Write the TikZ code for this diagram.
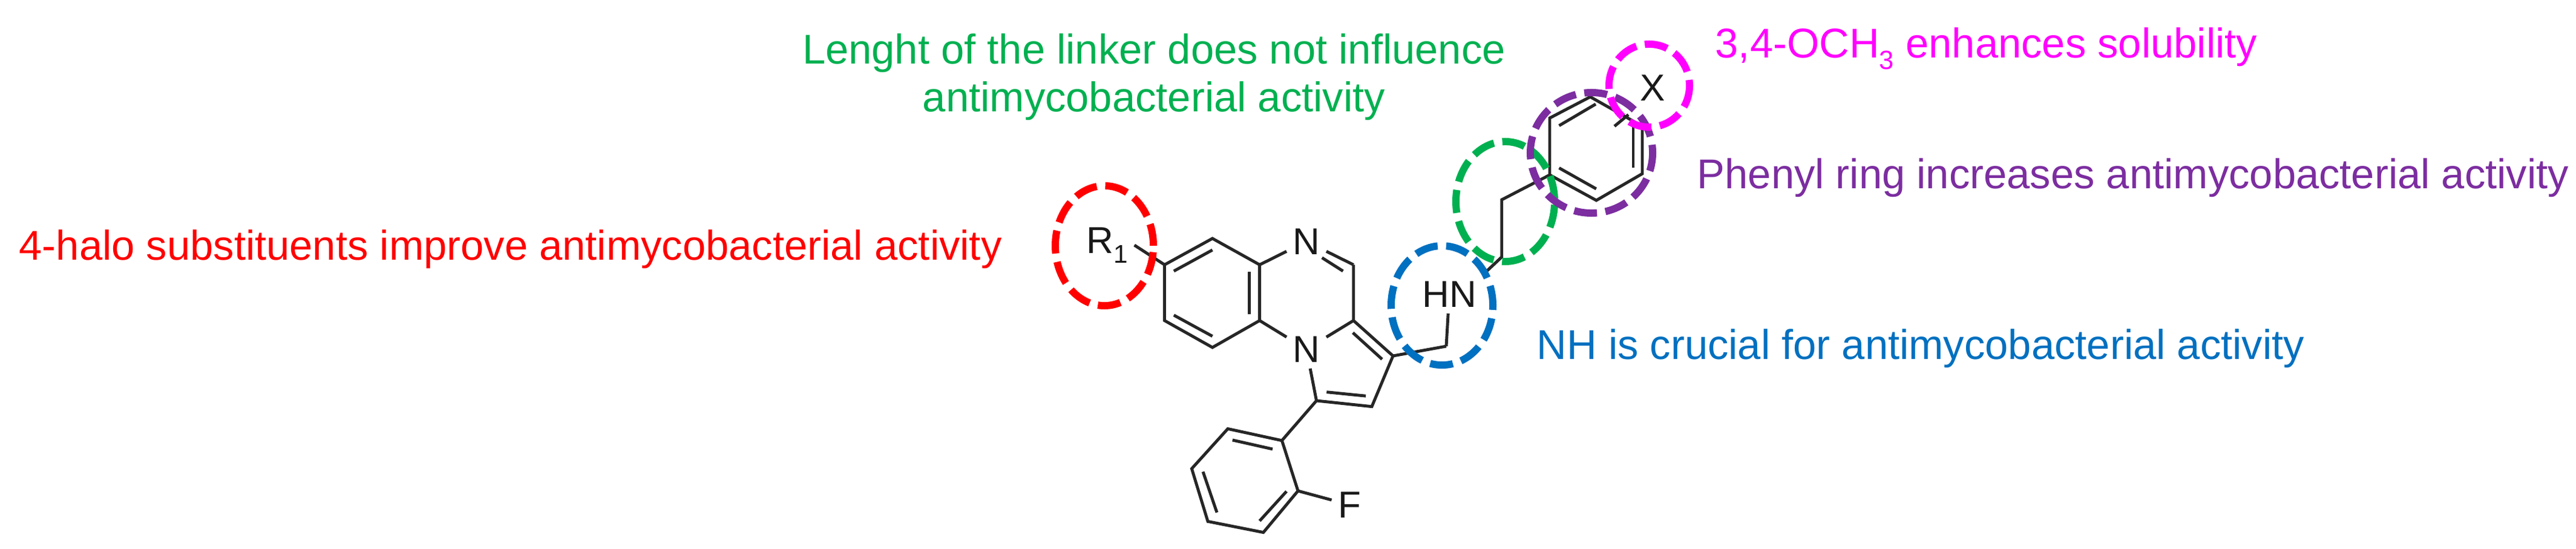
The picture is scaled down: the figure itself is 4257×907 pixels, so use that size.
\documentclass[tikz,border=0pt]{standalone}
\usepackage{fontspec}
\setmainfont{Liberation Sans}
\usepackage{tikz}
\usetikzlibrary{shapes.geometric}
\definecolor{halored}{HTML}{FF0000}
\definecolor{linkgreen}{HTML}{00B050}
\definecolor{nhblue}{HTML}{0070C0}
\definecolor{ringpurple}{HTML}{7C2DA0}
\definecolor{oxmagenta}{HTML}{FF00FF}
\newcommand{\notesub}[1]{\raisebox{-0.27em}{\fontsize{12.4}{14}\selectfont #1}}
\newcommand{\atomsub}[1]{\raisebox{-0.25em}{\fontsize{12}{13}\selectfont #1}}
\tikzset{
    bond/.style={line width=1.4pt, black!85},
    atom/.style={font=\fontsize{17.6}{20}\selectfont, inner sep=2.8pt, text=black!90},
    note/.style={font=\fontsize{19.55}{22.7}\selectfont, inner sep=0pt, anchor=base west},
    zone/.style={ellipse, line width=3.4pt, outer sep=0pt, inner sep=0pt, dash pattern=on 10.8pt off 4pt}
}
\begin{document}
\begin{tikzpicture}[x=0.01cm, y=-0.01cm]
    \useasboundingbox (0,0) rectangle (4257,907);
    % Atoms with a label:
    \node[atom] (R1) at (1830,405){R\atomsub{1}};
    \node[atom] (N1) at (2159,399){N};
    \node[atom] (N2) at (2159,577){N};
    \node[atom] (HN) at (2395,486){HN};
    \node[atom] (F1) at (2230,834){F};
    \node[atom] (X1) at (2731,145){X};
    % Carbons of the tricycle:
    \coordinate (C1) at (1924.5,437.4);
    \coordinate (C2) at (2003.6,394);
    \coordinate (C3) at (2081.6,437.4);
    \coordinate (C4) at (2236.7,437.4);
    \coordinate (C5) at (2236.7,529.6);
    \coordinate (C6) at (2081.6,529.6);
    \coordinate (C7) at (2003.6,574);
    \coordinate (C8) at (1924.5,529.6);
    \coordinate (C9) at (2302,588);
    \coordinate (C10) at (2267,671.7);
    \coordinate (C11) at (2175.5,662);
    % Fluorophenyl:
    \coordinate (P1) at (2118.4,727.8);
    \coordinate (P2) at (2029,708.4);
    \coordinate (P3) at (1969.4,774.3);
    \coordinate (P4) at (1996,861.4);
    \coordinate (P5) at (2087.8,879.6);
    \coordinate (P6) at (2145,811);
    % Linker:
    \coordinate (L1) at (2390,572);
    \coordinate (L2) at (2481.7,424.6);
    \coordinate (L3) at (2481.7,330);
    % Phenyl ring:
    \coordinate (Q1) at (2561,289);
    \coordinate (Q2) at (2561,195);
    \coordinate (Q3) at (2628,160);
    \coordinate (Q4) at (2714,208.6);
    \coordinate (Q5) at (2714,287);
    \coordinate (Q6) at (2638,331);
    % Inner lines of the double bonds:
    \coordinate (D1a) at (1939.8,447.9);
    \coordinate (D1b) at (2003.6,413);
    \coordinate (D2a) at (2064.8,449);
    \coordinate (D2b) at (2064.8,518.7);
    \coordinate (D3a) at (1939.8,520.7);
    \coordinate (D3b) at (2003.6,555.5);
    \coordinate (D4a) at (2184.7,425.8);
    \coordinate (D4b) at (2219.4,447.9);
    \coordinate (D5a) at (2235.7,549.7);
    \coordinate (D5b) at (2284,593.5);
    \coordinate (D6a) at (2192.3,647.7);
    \coordinate (D6b) at (2257,654.2);
    \coordinate (D7a) at (2036.7,727);
    \coordinate (D7b) at (2103,742);
    \coordinate (D8a) at (1988,779.3);
    \coordinate (D8b) at (2011,846.7);
    \coordinate (D9a) at (2081.6,860.6);
    \coordinate (D9b) at (2126,811.8);
    \coordinate (D10a) at (2576.5,207.6);
    \coordinate (D10b) at (2637,172);
    \coordinate (D11a) at (2699,208.6);
    \coordinate (D11b) at (2699,277.5);
    \coordinate (D12a) at (2576.5,277.5);
    \coordinate (D12b) at (2637.8,312);
    \coordinate (S1) at (2668,208.6);
    \coordinate (S2) at (2691,189.4);
    % Bonds:
    \draw[bond] (R1.east) -- (C1);
    \draw[bond] (C1) -- (C2) -- (C3) -- (C6) -- (C7) -- (C8) -- cycle;
    \draw[bond] (C3) -- (N1);
    \draw[bond] (N1) -- (C4);
    \draw[bond] (C4) -- (C5) -- (C9) -- (C10) -- (C11);
    \draw[bond] (C5) -- (N2);
    \draw[bond] (C6) -- (N2);
    \draw[bond] (N2) -- (C11);
    \draw[bond] (C11) -- (P1);
    \draw[bond] (P1) -- (P2) -- (P3) -- (P4) -- (P5) -- (P6) -- cycle;
    \draw[bond] (P6) -- (F1);
    \draw[bond] (C9) -- (L1);
    \draw[bond] (L1) -- (HN);
    \draw[bond] (HN.north east) -- (L2) -- (L3) -- (Q1);
    \draw[bond] (Q1) -- (Q2) -- (Q3) -- (Q4) -- (Q5) -- (Q6) -- cycle;
    \draw[bond] (D1a) -- (D1b);
    \draw[bond] (D2a) -- (D2b);
    \draw[bond] (D3a) -- (D3b);
    \draw[bond] (D4a) -- (D4b);
    \draw[bond] (D5a) -- (D5b);
    \draw[bond] (D6a) -- (D6b);
    \draw[bond] (D7a) -- (D7b);
    \draw[bond] (D8a) -- (D8b);
    \draw[bond] (D9a) -- (D9b);
    \draw[bond] (D10a) -- (D10b);
    \draw[bond] (D11a) -- (D11b);
    \draw[bond] (D12a) -- (D12b);
    \draw[bond] (S1) -- (S2);
    % Dashed zones:
    \node[zone, draw=halored, minimum width=1.62cm, minimum height=1.98cm, dash phase=0.5pt] (haloZone) at (1825,406){};
    \node[zone, draw=nhblue, minimum width=1.68cm, minimum height=1.97cm, dash phase=1.5pt] (nhZone) at (2383,504.6){};
    \node[zone, draw=linkgreen, minimum width=1.63cm, minimum height=1.98cm, dash phase=13.4pt] (linkZone) at (2487.5,333){};
    \node[zone, draw=ringpurple, minimum width=2.02cm, minimum height=1.99cm, dash phase=7pt] (ringZone) at (2630,252.5){};
    \node[zone, draw=oxmagenta, minimum width=1.33cm, minimum height=1.37cm, dash phase=8.1pt] (oxZone) at (2725.5,141.5){};
    % Notes:
    \node[note, text=halored] (haloNote) at (31,430){4-halo substituents improve antimycobacterial activity};
    \node[note, text=linkgreen, anchor=base, align=center] (linkNote) at (1907,185){Lenght of the linker does not influence\\antimycobacterial activity};
    \node[note, text=oxmagenta] (oxNote) at (2834,96){3,4-OCH\notesub{3} enhances solubility};
    \node[note, text=ringpurple] (ringNote) at (2804,312){Phenyl ring increases antimycobacterial activity};
    \node[note, text=nhblue] (nhNote) at (2539,594){NH is crucial for antimycobacterial activity};
\end{tikzpicture}
\end{document}
